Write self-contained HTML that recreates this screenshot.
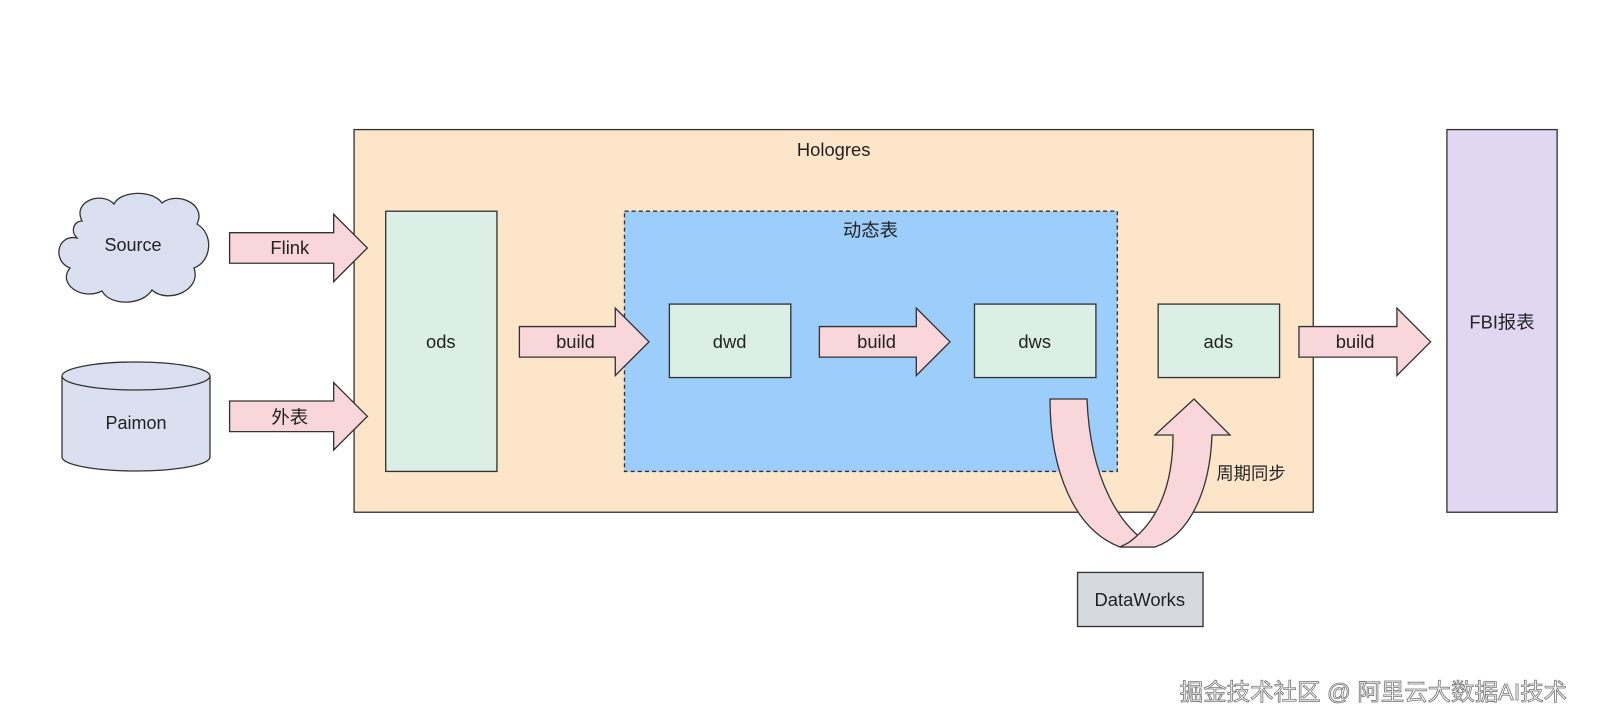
<!DOCTYPE html>
<html><head><meta charset="utf-8"><style>
html,body{margin:0;padding:0;background:#fff;}
svg{display:block;}
text{font-family:"Liberation Sans","Noto Sans CJK SC",sans-serif;fill:#222;}
</style></head><body>
<svg width="1600" height="727" viewBox="0 0 1600 727" xmlns="http://www.w3.org/2000/svg">
<g transform="scale(1.0204)">
<rect x="347" y="127" width="940" height="375" fill="#fde5c9" stroke="#333" stroke-width="1.3"/>
<text x="817" y="153" font-size="18" text-anchor="middle">Hologres</text>
<rect x="612" y="207" width="483" height="255" fill="#9dcdfb" stroke="#333" stroke-width="1.3" stroke-dasharray="4,3"/>
<text x="853" y="232" font-size="18" text-anchor="middle">动态表</text>
<rect x="378" y="207" width="109" height="255" fill="#dbefe6" stroke="#333" stroke-width="1.3"/>
<text x="432" y="341" font-size="18" text-anchor="middle">ods</text>
<rect x="656" y="298" width="119" height="72" fill="#dbefe6" stroke="#333" stroke-width="1.3"/>
<text x="715" y="341" font-size="18" text-anchor="middle">dwd</text>
<rect x="955" y="298" width="119" height="72" fill="#dbefe6" stroke="#333" stroke-width="1.3"/>
<text x="1014" y="341" font-size="18" text-anchor="middle">dws</text>
<rect x="1135" y="298" width="119" height="72" fill="#dbefe6" stroke="#333" stroke-width="1.3"/>
<text x="1194" y="341" font-size="18" text-anchor="middle">ads</text>
<rect x="1418" y="127" width="108" height="375" fill="#e2d7f3" stroke="#333" stroke-width="1.3"/>
<text x="1472" y="322" font-size="18" text-anchor="middle">FBI报表</text>
<g fill="#f8d6da" stroke="#333" stroke-width="1.3">
<path d="M509,320 L603,320 L603,302 L636,335 L603,368 L603,350 L509,350 Z"/>
<path d="M803,320 L898,320 L898,302 L931,335 L898,368 L898,350 L803,350 Z"/>
<path d="M1273,320 L1369,320 L1369,302 L1402,335 L1369,368 L1369,350 L1273,350 Z"/>
<path d="M225,228 L327,228 L327,210 L360,243 L327,276 L327,258 L225,258 Z"/>
<path d="M225,393 L327,393 L327,375 L360,408 L327,441 L327,423 L225,423 Z"/>
</g>
<text x="564" y="341" font-size="18" text-anchor="middle">build</text>
<text x="859" y="341" font-size="18" text-anchor="middle">build</text>
<text x="1328" y="341" font-size="18" text-anchor="middle">build</text>
<text x="284" y="249" font-size="18" text-anchor="middle">Flink</text>
<text x="284" y="415" font-size="18" text-anchor="middle">外表</text>
<text x="1226" y="470" font-size="17" text-anchor="middle">周期同步</text>
<rect x="1056" y="561" width="123" height="53" fill="#d6d9e0" stroke="#333" stroke-width="1.3"/>
<text x="1117" y="594" font-size="18" text-anchor="middle">DataWorks</text>
<text x="1346" y="686" font-size="23" text-anchor="middle" style="fill:#fafafa;stroke:#777;stroke-width:0.8;">掘金技术社区 @ 阿里云大数据AI技术</text>
</g>
<!-- cloud -->
<path d="M82,221 C72,201 102,191 114,204 C120,191 152,189 162,203 C177,191 207,204 197,224 C214,234 212,261 194,268 C202,291 167,304 152,290 C142,306 110,306 102,291 C82,301 57,284 70,268 C52,261 57,234 77,238 C70,231 74,221 82,221 Z" fill="#dbe0f0" stroke="#333" stroke-width="1.3"/>
<text x="133" y="251" font-size="18" text-anchor="middle">Source</text>
<!-- cylinder -->
<path d="M62,376 L62,457 A74,14 0 0 0 210,457 L210,376" fill="#dbe0f0" stroke="#333" stroke-width="1.3"/>
<ellipse cx="136" cy="376" rx="74" ry="14" fill="#dbe0f0" stroke="#333" stroke-width="1.3"/>
<text x="136" y="429" font-size="18" text-anchor="middle">Paimon</text>
<g fill="#f8d6da" stroke="#333" stroke-width="1.3">
<path d="M1050,399 L1087,399 C1090,478 1120,530 1155,547 L1120,547 C1075,530 1050,472 1050,399 Z"/>
<path d="M1128,543 C1158,522 1173,485 1173,435 L1155,435 L1194,399 L1230,435 L1212,435 C1210,490 1190,535 1155,547 L1120,547 Z"/>
</g>
</svg>
</body></html>
